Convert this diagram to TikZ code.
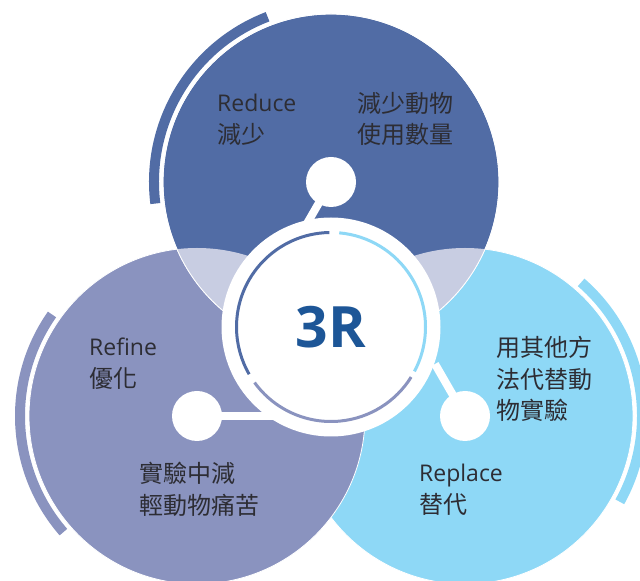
\documentclass[tikz,border=0pt]{standalone}
\usepackage{fontspec}
\setmainfont{Open Sans}
\newfontfamily\cjk{Noto Sans CJK TC}
\usepackage{tikz}
\usetikzlibrary{calc}
\usetikzlibrary{positioning}
\definecolor{reduceblue}{RGB}{81, 108, 165}
\definecolor{refinepurple}{RGB}{138, 147, 191}
\definecolor{replacesky}{RGB}{142, 216, 246}
\definecolor{overlaplilac}{RGB}{200, 205, 226}
\definecolor{titleblue}{RGB}{29, 86, 151}
\definecolor{textgray}{RGB}{45, 45, 52}
\tikzset{
  dot/.style={circle, fill=white, minimum size=50pt, inner sep=0pt},
  stem/.style={white, line width=8pt},
  hubring/.style={line width=3pt},
  outring/.style={line width=10pt},
  lbl/.style={anchor=north west, align=left, inner sep=0pt, text=textgray,
              font=\fontsize{23}{31.5}\selectfont},
  zhlbl/.style={lbl, font=\cjk\fontsize{24}{31.5}\selectfont},
}
\newcommand{\zh}[1]{{\cjk\fontsize{24}{31.5}\selectfont #1}}

\begin{document}
\begin{tikzpicture}[x=1pt, y=1pt]
            \useasboundingbox (0,0) rectangle (640,581);
            \coordinate (T) at (331,399);
            \coordinate (L) at (197,165);
            \coordinate (P) at (465,165);
            \coordinate (C) at (331,254);
            % the three circles
            \filldraw[replacesky,   draw=white, line width=0.8pt] (P) circle (168pt);
            \filldraw[refinepurple, draw=white, line width=0.8pt] (L) circle (168pt);
            \filldraw[reduceblue,   draw=white, line width=0.8pt] (T) circle (168pt);
            \begin{scope}
                \clip (T) circle (168pt);
                \fill[overlaplilac] (L) circle (168pt);
                \fill[overlaplilac] (P) circle (168pt);
            \end{scope}
            \draw[white, line width=0.8pt] (T) circle (168pt);
            % outer arcs
            \draw[reduceblue,   outring] (T) ++(111:177pt) arc[start angle=111, end angle=187, radius=177pt];
            \draw[refinepurple, outring] (L) ++(145:177pt) arc[start angle=145, end angle=221, radius=177pt];
            \draw[replacesky,   outring] (P) ++(-29:177pt) arc[start angle=-29, end angle=49,  radius=177pt];
            % stems and dots
            \node[dot] (dotT) at (T) {};
            \node[dot] (dotL) at (L) {};
            \node[dot] (dotP) at (P) {};
            \coordinate (stT) at ($(T)+(240:60pt)$);
            \coordinate (stL) at ($(L)+(0:80pt)$);
            \coordinate (stP) at ($(P)+(120:60pt)$);
            \draw[stem] (dotT.center) -- (stT);
            \draw[stem] (dotL.center) -- (stL);
            \draw[stem] (dotP.center) -- (stP);
            % hub
            \node[circle, fill=white, minimum size=219pt, inner sep=0pt] (hub) at (C) {};
            \draw[reduceblue,   hubring] (C) ++(91:94.5pt)  arc[start angle=91,  end angle=210, radius=94.5pt];
            \draw[refinepurple, hubring] (C) ++(216:94.5pt) arc[start angle=216, end angle=328, radius=94.5pt];
            \draw[replacesky,   hubring] (C) ++(-28:94.5pt) arc[start angle=-28, end angle=85,  radius=94.5pt];
            \node[text=titleblue, font=\bfseries\fontsize{57}{57}\selectfont] (title) at (C) {3R};
            % labels
            \node[lbl] (reduceName) at (217,487) {Reduce\\\zh{減少}};
            \node[zhlbl] (reduceText) at (357,489) {減少動物\\使用數量};
            \node[lbl] (refineName) at (89,243)  {Refine\\\zh{優化}};
            \node[zhlbl] (refineText) at (139,119) {實驗中減\\輕動物痛苦};
            \node[zhlbl] (replaceText) at (496,245) {用其他方\\法代替動\\物實驗};
            \node[lbl] (replaceName) at (419,117) {Replace\\\zh{替代}};
\end{tikzpicture}
\end{document}
